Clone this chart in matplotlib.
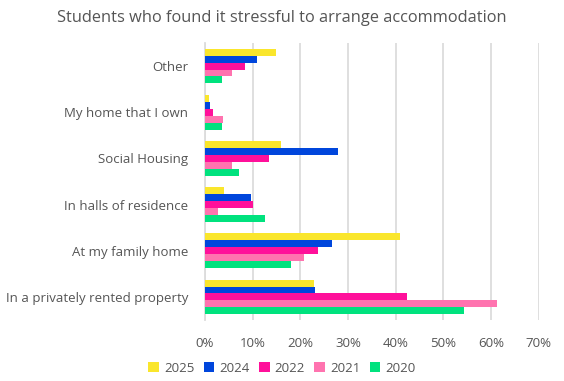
import matplotlib
matplotlib.use("Agg")
import matplotlib.pyplot as plt
import numpy as np
from matplotlib.ticker import FuncFormatter, MultipleLocator

categories = ["Other", "My home that I own", "Social Housing", "In halls of residence",
              "At my family home", "In a privately rented property"]
series_names = ["2025", "2024", "2022", "2021", "2020"]
v2025 = [15.0, 0.9, 16.0, 4.0, 41.0, 22.9]
v2024 = [11.0, 1.1, 28.0, 9.7, 26.7, 23.1]
v2022 = [8.5, 1.7, 13.5, 10.1, 23.8, 42.5]
v2021 = [5.7, 3.8, 5.7, 2.8, 20.8, 61.3]
v2020 = [3.6, 3.6, 7.2, 12.6, 18.1, 54.4]
series_values = [v2025, v2024, v2022, v2021, v2020]
colors = ["#FAE62C", "#0046DC", "#FF109A", "#FF73AF", "#00E27E"]

plt.rcParams['font.family'] = ['Open Sans', 'DejaVu Sans']
text_color = "#555555"

fig = plt.figure(figsize=(5.64, 3.81), dpi=100)
ax = fig.add_axes([205/564, 1-320/381, (538.5-205)/564, (320-43)/381])

bar_h = 0.15
y = np.arange(len(categories))
for j, (name, vals, c) in enumerate(zip(series_names, series_values, colors)):
    ax.barh(y + (j - 2) * bar_h, np.array(vals) / 100.0, height=bar_h, color=c,
            label=name, zorder=3)

ax.set_ylim(len(categories) - 0.5, -0.5)
ax.set_xlim(0, 0.7)
ax.xaxis.set_major_locator(MultipleLocator(0.1))
ax.xaxis.set_major_formatter(FuncFormatter(lambda v, p: f"{v*100:.0f}%"))
ax.set_yticks(y)
ax.set_yticklabels(categories)
ax.grid(axis='x', color="#dcdcdc", linewidth=1.3, zorder=0)
for s in ["top", "right", "bottom"]:
    ax.spines[s].set_visible(False)
ax.spines["left"].set_color("#dcdcdc")
ax.spines["left"].set_linewidth(1.3)
ax.tick_params(axis='y', length=0, pad=12, labelsize=9.5, labelcolor=text_color)
ax.tick_params(axis='x', length=0, pad=12, labelsize=9.5, labelcolor=text_color)

fig.suptitle("Students who found it stressful to arrange accommodation",
             x=0.5, y=1-18/381, va='center', fontsize=11.8, color=text_color)

handles, labels = ax.get_legend_handles_labels()
fig.legend(handles, labels, loc='center', bbox_to_anchor=(0.5, 1-368/381), ncol=5,
           frameon=False, fontsize=9.5, labelcolor=text_color, handlelength=0.8,
           handleheight=0.8, handletextpad=0.4, columnspacing=0.7)

fig.savefig("out.png", dpi=100)
